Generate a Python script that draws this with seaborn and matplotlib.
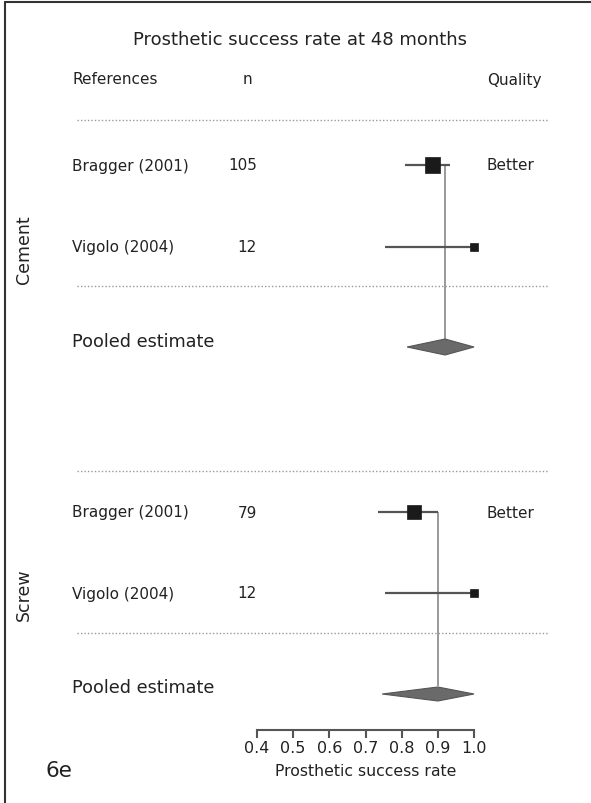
import numpy as np
import pandas as pd
import matplotlib.pyplot as plt
from matplotlib.lines import Line2D
import seaborn as sns

sns.set_style("white")
plt.rcParams["font.family"] = ["DejaVu Sans"]

# --- Data ---
groups = ["Cement", "Cement", "Screw", "Screw"]
studies = ["Bragger (2001)", "Vigolo (2004)", "Bragger (2001)", "Vigolo (2004)"]
n_values = [105, 12, 79, 12]
estimates = [0.884, 1.0, 0.834, 1.0]
ci_low = [0.809, 0.754, 0.735, 0.754]
ci_high = [0.934, 1.0, 0.900, 1.0]
quality = ["Better", "", "Better", ""]

pooled_groups = ["Cement", "Screw"]
pooled_est = [0.920, 0.900]
pooled_low = [0.815, 0.746]
pooled_high = [1.0, 1.0]

x_ticks = [0.4, 0.5, 0.6, 0.7, 0.8, 0.9, 1.0]

# --- Layout (pixel rows of the 591x804 figure) ---
W, H = 591, 804
study_rows = [166, 248, 513, 594]
pooled_rows = [348, 695]
pooled_text_rows = [342, 688]
dotted_rows = [121, 287, 472, 634]
group_label_rows = [250, 595]
diamond_half = [8, 7]

df = pd.DataFrame({"group": groups, "study": studies, "n": n_values,
                   "est": estimates, "lo": ci_low, "hi": ci_high,
                   "quality": quality, "row": study_rows})

fig = plt.figure(figsize=(W / 100, H / 100), dpi=100)
ax = fig.add_axes([257 / W, (H - 731) / H, (474 - 257) / W, 731 / H])
ax.set_xlim(0.4, 1.0)
ax.set_ylim(731, 0)

line_col = "#555555"
ref_col = "#999999"
text_col = "#222222"

# vertical reference lines at the pooled estimates
for g, pe, prow in zip(pooled_groups, pooled_est, pooled_rows):
    top = df.loc[df.group == g, "row"].min()
    ax.vlines(pe, top, prow - 8, color=ref_col, lw=1.4, clip_on=False, zorder=1)

# confidence intervals
ax.hlines(df["row"], df["lo"], df["hi"], color=line_col, lw=1.6, clip_on=False, zorder=2)

# study squares sized by n
sns.scatterplot(data=df, x="est", y="row", size="n", sizes=(34, 117), size_norm=(12, 105),
                marker="s", color="#1a1a1a", edgecolor="#1a1a1a", linewidth=0.5,
                legend=False, ax=ax, clip_on=False, zorder=3)

# pooled diamonds
for pe, lo, hi, prow, hh in zip(pooled_est, pooled_low, pooled_high, pooled_rows, diamond_half):
    ax.fill([lo, pe, hi, pe], [prow, prow - hh, prow, prow + hh],
            facecolor="#6a6a6a", edgecolor="#555555", lw=0.8, clip_on=False, zorder=3)

# axis styling
for side in ["left", "right", "top"]:
    ax.spines[side].set_visible(False)
ax.spines["bottom"].set_color(line_col)
ax.spines["bottom"].set_linewidth(1.5)
ax.set_yticks([])
ax.set_xticks(x_ticks)
ax.set_xticklabels([f"{t:.1f}" for t in x_ticks], fontsize=11.5, color=text_col)
ax.tick_params(axis="x", bottom=True, direction="out", length=6, width=1.5,
               color=line_col, pad=1)
ax.set_xlabel("")
ax.set_ylabel("")
ax.patch.set_alpha(0)


def ftext(px, py, s, **kw):
    fig.text(px / W, 1 - py / H, s, color=text_col, va="center", **kw)


# header
ftext(300, 40, "Prosthetic success rate at 48 months", fontsize=13, ha="center")
ftext(72, 80, "References", fontsize=11)
ftext(247, 80, "n", fontsize=11, ha="center")
ftext(542, 80, "Quality", fontsize=11, ha="right")

for _, r in df.iterrows():
    ftext(72, r["row"], r["study"], fontsize=11)
    ftext(257, r["row"], str(r["n"]), fontsize=11, ha="right")
    if r["quality"]:
        ftext(487, r["row"], r["quality"], fontsize=11)

for g, prow in zip(pooled_groups, pooled_text_rows):
    ftext(72, prow, "Pooled estimate", fontsize=12.7)

for g, grow in zip(pooled_groups, group_label_rows):
    ftext(24, grow, g, fontsize=12.5, rotation=90, ha="center")

ftext(366, 772, "Prosthetic success rate", fontsize=11.3, ha="center")
ftext(45, 771, "6e", fontsize=15.5)

# dotted separators
for dy in dotted_rows:
    fig.add_artist(Line2D([77 / W, 548 / W], [1 - dy / H, 1 - dy / H], color=ref_col,
                          lw=1.0, ls=(0, (1, 1.5)), transform=fig.transFigure))

# frame on the left and top
fig.add_artist(Line2D([5 / W, 5 / W], [0, 1 - 3 / H], color="#333333", lw=1.5, transform=fig.transFigure))
fig.add_artist(Line2D([5 / W, 1], [1 - 3 / H, 1 - 3 / H], color="#333333", lw=1.5, transform=fig.transFigure))

fig.savefig("out.png", dpi=100)
